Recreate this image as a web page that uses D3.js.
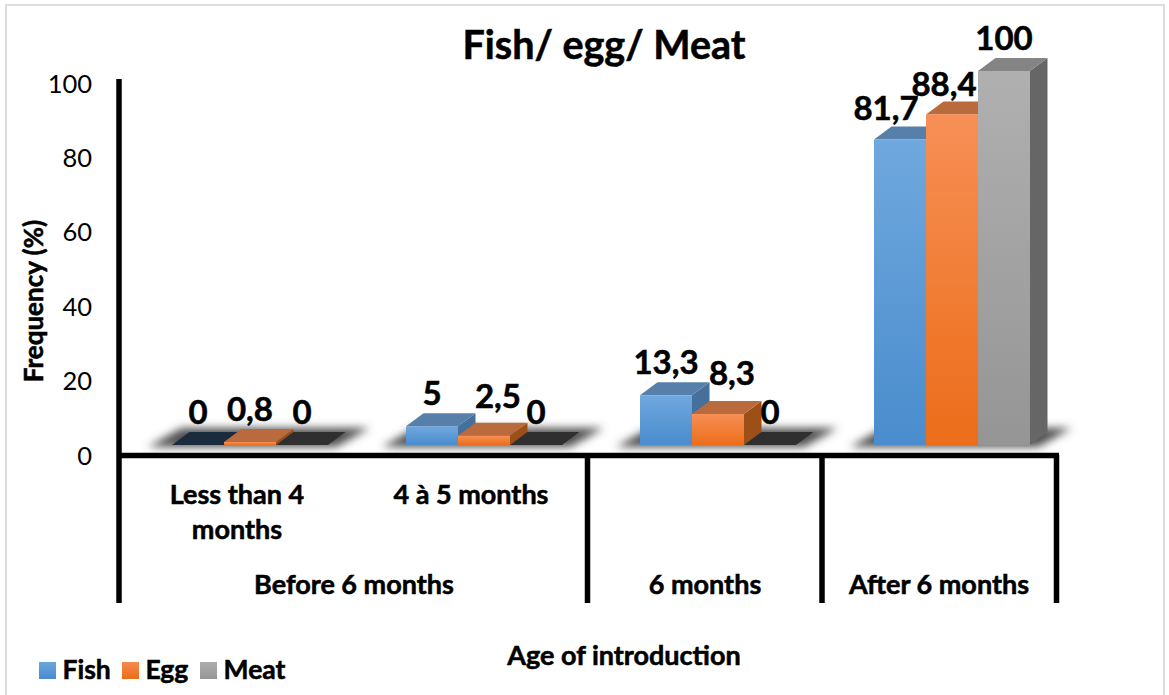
<!DOCTYPE html>
<html>
<head>
<meta charset="utf-8">
<script src="https://cdn.jsdelivr.net/npm/d3@7"></script>
<style>
  html, body { margin: 0; padding: 0; background: #fff; }
  svg { display: block; font-family: Lato, "Open Sans", sans-serif; font-weight: 700; }
  .heavy { stroke: #000; stroke-width: 0.55px; }
</style>
</head>
<body>
<div id="chart"></div>
<script>
// Chart values
const groups = ["Less than 4 months", "4 à 5 months", "6 months", "After 6 months"];
const seriesNames = ["Fish", "Egg", "Meat"];
const fishValues = [0, 5, 13.3, 81.7];
const eggValues = [0.8, 2.5, 8.3, 88.4];
const meatValues = [0, 0, 0, 100];
const yTicks = [0, 20, 40, 60, 80, 100];

// Hand-placed label shifts for the crowded bars, keyed "series-group"
const labelNudge = { "0-3": [-14, 2], "1-3": [-8, 3], "1-1": [14, -7], "1-2": [14, -8] };

const W = 1169, H = 695;
const depth = { x: 17.5, y: 13 };
const colors = {
  Fish: { top: "#6fa8de", bottom: "#4a8ccd", legendTop: "#6aa5dc", lid: "#5680a9", side: "#45709c", flat: "#1b2b3e" },
  Egg:  { top: "#f78f55", bottom: "#ec6d19", legendTop: "#f58b4e", lid: "#b96b3e", side: "#9d4f18", flat: "#b96b3e" },
  Meat: { top: "#b0b0b0", bottom: "#959595", legendTop: "#adadad", lid: "#848484", side: "#666666", flat: "#2f2f2f" }
};

const svg = d3.select("#chart").append("svg").attr("width", W).attr("height", H);
const defs = svg.append("defs");

seriesNames.forEach(name => {
  const g = defs.append("linearGradient").attr("id", "grad-" + name)
    .attr("x1", 0).attr("y1", 0).attr("x2", 0).attr("y2", 1);
  g.append("stop").attr("offset", "0%").attr("stop-color", colors[name].top);
  g.append("stop").attr("offset", "100%").attr("stop-color", colors[name].bottom);
});
defs.append("filter").attr("id", "floorBlur")
  .attr("x", "-20%").attr("y", "-60%").attr("width", "140%").attr("height", "220%")
  .append("feGaussianBlur").attr("stdDeviation", 4);

// Outer frame of the chart
svg.append("rect").attr("x", 6).attr("y", 5).attr("width", 1158).attr("height", 700)
  .attr("fill", "#fff").attr("stroke", "#dcdcdc").attr("stroke-width", 2);

// The drawn columns and the printed axis use slightly different vertical scales
const barY = d3.scaleLinear().domain([0, 100]).range([445, 71]);
const axisY = d3.scaleLinear().domain([0, 100]).range([456, 84]);
const x0 = d3.scaleBand().domain(groups).range([133, 1069]).paddingInner(1 / 3).paddingOuter(1 / 6);
const x1 = d3.scaleBand().domain(seriesNames).range([0, x0.bandwidth()]);

const rows = [fishValues, eggValues, meatValues];

// Soft shadow on the floor below every cluster
const floor = svg.append("g").attr("filter", "url(#floorBlur)");
groups.forEach(g => {
  const l = x0(g), r = l + x0.bandwidth();
  floor.append("path")
    .attr("d", d3.line()([[l - 24, barY(0) + 2], [r + 8, barY(0) + 2], [r + depth.x + 24, barY(0) - depth.y - 4], [l + depth.x - 8, barY(0) - depth.y - 4]]) + "Z")
    .attr("fill", "#505050");
});

// Columns: side face, top face, then front face
const barsLayer = svg.append("g");
groups.forEach((g, gi) => {
  rows.forEach((vals, si) => {
    const name = seriesNames[si], v = vals[gi], c = colors[name];
    const xl = x0(g) + x1(name), xr = xl + x1.bandwidth();
    const yt = barY(v), yb = barY(0);
    const grp = barsLayer.append("g");
    if (v > 0) {
      grp.append("path").attr("fill", c.side)
        .attr("d", d3.line()([[xr, yb], [xr + depth.x, yb - depth.y], [xr + depth.x, yt - depth.y], [xr, yt]]) + "Z");
    }
    grp.append("path").attr("fill", v > 0 ? c.lid : c.flat)
      .attr("d", d3.line()([[xl, yt], [xr, yt], [xr + depth.x, yt - depth.y], [xl + depth.x, yt - depth.y]]) + "Z");
    if (v > 0) {
      grp.append("rect").attr("x", xl).attr("y", yt).attr("width", x1.bandwidth()).attr("height", yb - yt)
        .attr("fill", `url(#grad-${name})`);
    }
  });
});

// Value labels with decimal commas
const fmtValue = v => String(v).replace(".", ",");
const labelLayer = svg.append("g").attr("class", "heavy").attr("fill", "#000").attr("font-size", 33).attr("text-anchor", "middle");
groups.forEach((g, gi) => {
  rows.forEach((vals, si) => {
    const name = seriesNames[si], v = vals[gi];
    const [nx, ny] = labelNudge[si + "-" + gi] || [0, 0];
    labelLayer.append("text")
      .attr("x", x0(g) + x1(name) + x1.bandwidth() / 2 + nx)
      .attr("y", barY(v) - 21 + ny)
      .text(fmtValue(v));
  });
});

// Axis lines and category separators
const axisLayer = svg.append("g").attr("stroke", "#000").attr("stroke-width", 5.5).attr("fill", "none");
axisLayer.append("line").attr("x1", 119).attr("x2", 119).attr("y1", 79).attr("y2", 603);
axisLayer.append("line").attr("x1", 117).attr("x2", 1059).attr("y1", 455.5).attr("y2", 455.5);
[587.5, 822, 1056.5].forEach(x => axisLayer.append("line").attr("x1", x).attr("x2", x).attr("y1", 455).attr("y2", 603));

// Value axis tick labels
const yAxis = d3.axisLeft(axisY).tickValues(yTicks).tickSize(0).tickPadding(27);
const yG = svg.append("g").attr("transform", "translate(119,0)").call(yAxis);
yG.select(".domain").remove();
yG.selectAll("text").attr("font-family", "Lato, sans-serif").attr("font-weight", 400).attr("font-size", 25.5).attr("fill", "#000");

// Category labels, two tiers
const catLayer = svg.append("g").attr("class", "heavy").attr("fill", "#000").attr("font-size", 27).attr("text-anchor", "middle");
[["Less than 4", 237, 504], ["months", 237, 539], ["4 à 5 months", 471, 504],
 ["Before 6 months", 354, 594], ["6 months", 705, 594], ["After 6 months", 939, 594]]
  .forEach(([t, x, y]) => catLayer.append("text").attr("x", x).attr("y", y).text(t));

// Titles
svg.append("text").attr("class", "heavy").attr("x", 604).attr("y", 59).attr("text-anchor", "middle").attr("font-size", 39.5).text("Fish/ egg/ Meat");
svg.append("text").attr("class", "heavy").attr("x", 624).attr("y", 665).attr("text-anchor", "middle").attr("font-size", 27).text("Age of introduction");
svg.append("text").attr("class", "heavy").attr("transform", "translate(43,301) rotate(-90)").attr("text-anchor", "middle").attr("font-size", 26).text("Frequency (%)");

// Legend
const legend = svg.append("g").attr("class", "heavy").attr("font-size", 26.5);
seriesNames.forEach(name => {
  const g = defs.append("linearGradient").attr("id", "legend-" + name)
    .attr("x1", 0).attr("y1", 0).attr("x2", 0).attr("y2", 1);
  g.append("stop").attr("offset", "0%").attr("stop-color", colors[name].legendTop);
  g.append("stop").attr("offset", "100%").attr("stop-color", colors[name].bottom);
});
const legendX = { Fish: 39, Egg: 122, Meat: 200 };
seriesNames.forEach(name => {
  legend.append("rect").attr("x", legendX[name]).attr("y", 662).attr("width", 17).attr("height", 17)
    .attr("stroke", "none").attr("fill", `url(#legend-${name})`);
  legend.append("text").attr("x", legendX[name] + 23.5).attr("y", 679).text(name);
});
</script>
</body>
</html>
